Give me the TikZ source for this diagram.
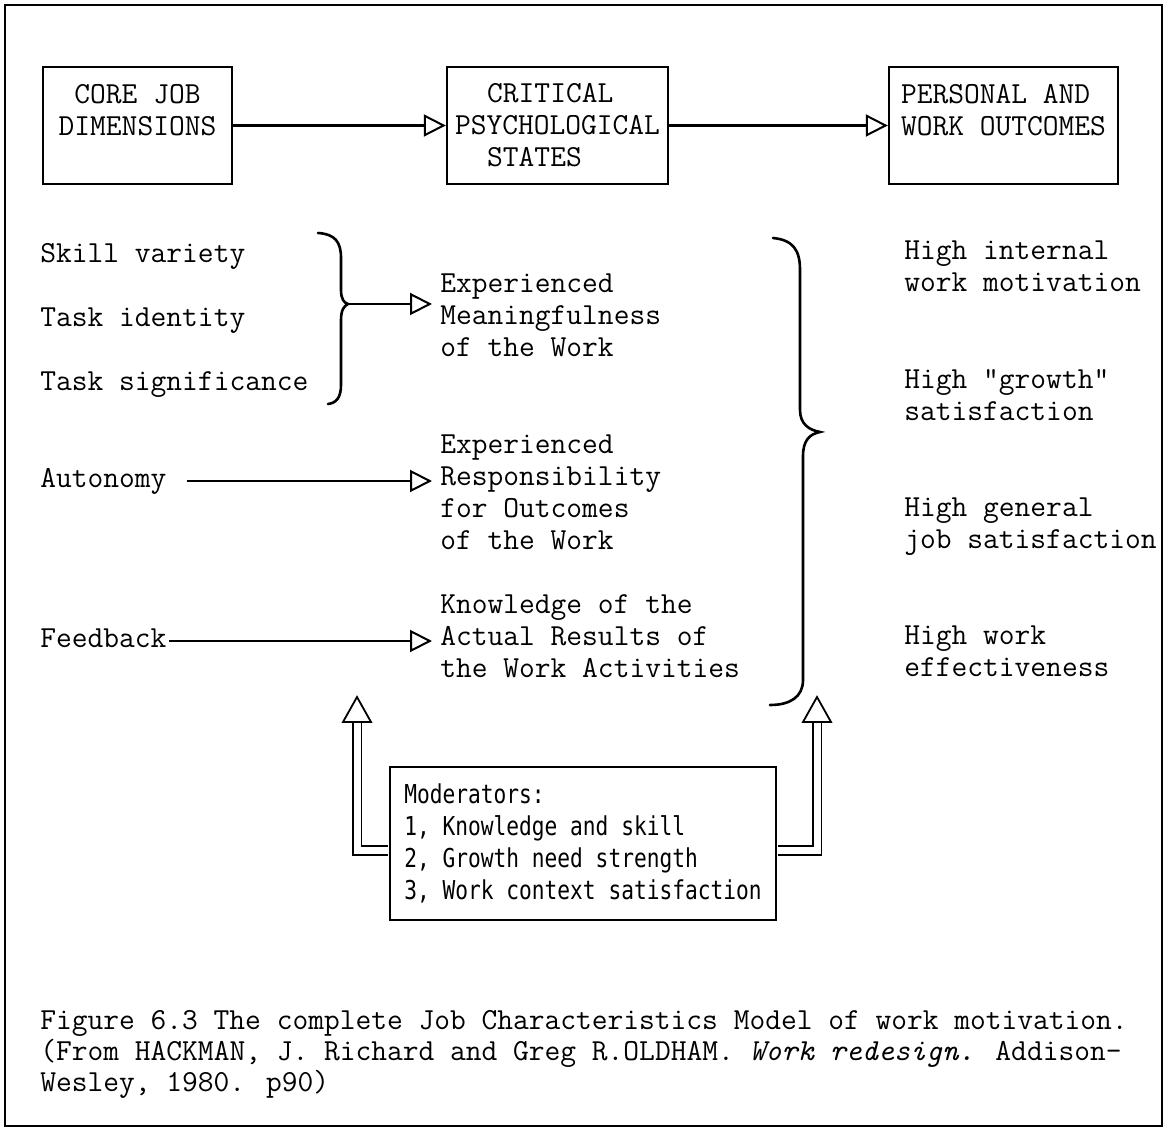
\documentclass[tikz,border=0pt]{standalone}
\usepackage{fontspec}
\newfontfamily\modfont[FakeStretch=0.815]{DejaVu Sans Mono}
\usetikzlibrary{arrows.meta}
\tikzset{
  mainfont/.style={font=\ttfamily\fontsize{15.3}{16}\selectfont},
  txt/.style={mainfont, anchor=west, inner sep=0pt, align=left,
    execute at begin node=\strut, execute at end node=\strut},
  midtxt/.style={txt, inner xsep=4pt},
  hbox/.style={draw, line width=1.2pt, mainfont, inner sep=0pt, minimum height=58.5pt},
  arr/.style={line width=1.1pt, -{Triangle[open, length=11pt, width=11pt, line width=1pt]}},
  dbl/.style={double, double distance=3.5pt, line width=0.9pt},
  hollowtip/.style={draw, line width=0.9pt, fill=white, line join=miter},
  bracepath/.style={line width=1.3pt, line cap=round},
  frame/.style={line width=1pt},
}
\begin{document}
\begin{tikzpicture}[x=0.5pt, y=-0.5pt]
\useasboundingbox (0,0) rectangle (1171,1133);
\draw[frame] (5,5) rectangle (1162,1126);

% top boxes
\node[hbox, minimum width=94.5pt, align=center] (b1) at (137.5,125.5) {CORE JOB\\DIMENSIONS\\\mbox{}};
\node[hbox, minimum width=110.5pt, align=left] (b2) at (557.5,125.5) {\hspace*{16.07pt}CRITICAL\\PSYCHOLOGICAL\\\hspace*{16.07pt}STATES};
\node[hbox, minimum width=114.5pt, align=left] (b3) at (1003.5,125.5) {PERSONAL AND\\WORK OUTCOMES\\\mbox{}};
\draw[arr] (b1.east) -- (b1.east -| b2.west);
\draw[arr] (b2.east) -- (b2.east -| b3.west);

% left column
\node[txt] (skill) at (40,256) {Skill variety};
\node[txt] (ident) at (40,320) {Task identity};
\node[txt] (signif) at (40,384) {Task significance};
\node[txt] (auto) at (40,481) {Autonomy};
\node[txt] (feed) at (40,641) {Feedback};

% middle column
\node[midtxt] (mean) at (432,320) {Experienced\\Meaningfulness\\of the Work};
\node[midtxt] (resp) at (432,496.5) {Experienced\\Responsibility\\for Outcomes\\of the Work};
\node[midtxt] (know) at (432,640.5) {Knowledge of the\\Actual Results of\\the Work Activities};

% right column
\node[txt] (out1) at (904,271.3) {High internal\\work motivation};
\node[txt] (out2) at (904,399.8) {High "growth"\\satisfaction};
\node[txt] (out3) at (904,527.8) {High general\\job satisfaction};
\node[txt] (out4) at (904,656.3) {High work\\effectiveness};

% small brace
\coordinate (bj) at (348,304);
\draw[bracepath] (318,233) .. controls (335,234) and (341,242) .. (341,258)
  -- (341,290) .. controls (341,299) and (344,303) .. (bj)
  .. controls (344,306) and (341,310) .. (341,320)
  -- (341,385) .. controls (341,398) and (336,403) .. (328,404);
\draw[arr] (bj) -- (bj -| mean.west);

% arrows from autonomy and feedback
\draw[arr, shorten <=10pt] (auto.east) -- (auto.east -| resp.west);
\draw[arr, shorten <=1pt] (feed.east) -- (feed.east -| know.west);

% big brace
\coordinate (bt) at (820,432);
\draw[bracepath] (773,238) .. controls (793,240) and (800,250) .. (800,270)
  -- (800,410) .. controls (800,424) and (809,430) .. (bt)
  .. controls (810,434) and (803,440) .. (803,456)
  -- (803,680) .. controls (803,697) and (790,705) .. (770,705);

% moderators
\node[draw, line width=1.2pt, fill=white, font=\modfont\fontsize{13}{16}\selectfont, align=left,
  minimum width=193pt, minimum height=76.5pt, inner sep=0pt] (mod) at (583,843.5)
  {Moderators:\\1, Knowledge and skill\\2, Growth need strength\\3, Work context satisfaction};
\coordinate (tipL) at (357,697);
\coordinate (baseL) at (357,722);
\coordinate (tipR) at (817,697);
\coordinate (baseR) at (817,722);
\draw[dbl, shorten <=0.6pt] ([yshift=-3.5pt]mod.west) -| (baseL);
\draw[dbl, shorten <=0.6pt] ([yshift=-3.5pt]mod.east) -| (baseR);
\draw[hollowtip] (tipL) -- ([xshift=7pt]baseL) -- ([xshift=-7pt]baseL) -- cycle;
\draw[hollowtip] (tipR) -- ([xshift=7pt]baseR) -- ([xshift=-7pt]baseR) -- cycle;

% caption
\node[txt, font=\ttfamily\fontsize{15.3}{15.5}\selectfont] (cap) at (40,1055.8)
  {Figure 6.3 The complete Job Characteristics Model of work motivation.\\(From HACKMAN, J. Richard and Greg R.OLDHAM. {\itshape Work redesign.} Addison-\\Wesley, 1980. p90)};
\end{tikzpicture}
\end{document}
